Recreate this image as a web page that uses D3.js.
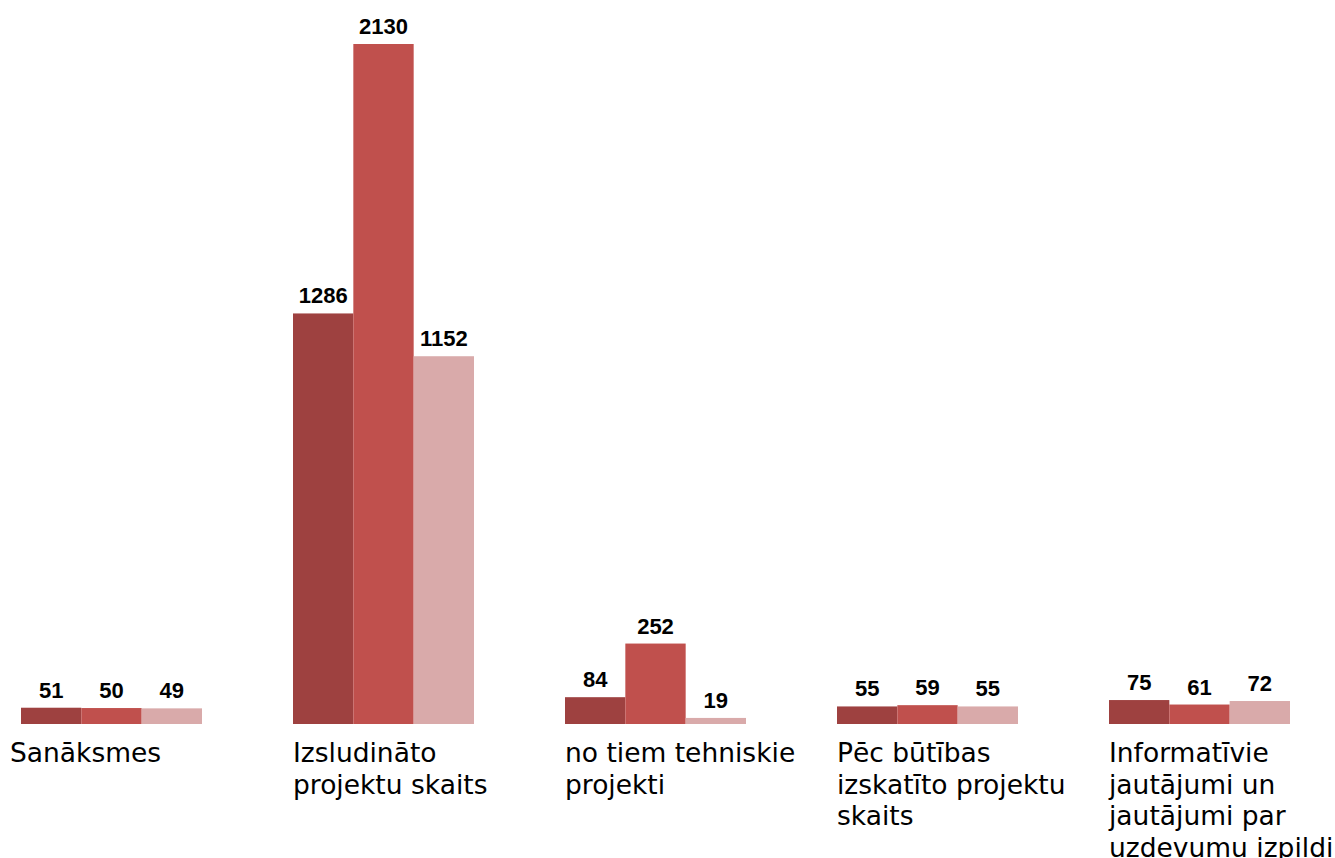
<!DOCTYPE html>
<html>
<head>
<meta charset="utf-8">
<script src="https://cdn.jsdelivr.net/npm/d3@7/dist/d3.min.js"></script>
<style>
  html, body { margin: 0; padding: 0; background: #ffffff; }
  svg { display: block; }
</style>
</head>
<body>
<svg id="chart" width="1335" height="858"></svg>
<script>
// ---- data ----
const categories = [
  "Sanāksmes",
  "Izsludināto projektu skaits",
  "no tiem tehniskie projekti",
  "Pēc būtības izskatīto projektu skaits",
  "Informatīvie jautājumi un jautājumi par uzdevumu izpildi"
];
const categoryLines = [
  ["Sanāksmes"],
  ["Izsludināto", "projektu skaits"],
  ["no tiem tehniskie", "projekti"],
  ["Pēc būtības", "izskatīto projektu", "skaits"],
  ["Informatīvie", "jautājumi un", "jautājumi par", "uzdevumu izpildi"]
];
const seriesNames = ["Sērija 1", "Sērija 2", "Sērija 3"];
const series1 = [51, 1286, 84, 55, 75];
const series2 = [50, 2130, 252, 59, 61];
const series3 = [49, 1152, 19, 55, 72];
const seriesValues = [series1, series2, series3];
const seriesColors = ["#9e4140", "#c0504d", "#d9aaaa"];

// ---- chart ----
const svg = d3.select("#chart");
const plotBottom = 724, plotTop = 44;

const x = d3.scaleBand()
  .domain(categories)
  .range([21, 1290])
  .paddingInner(91 / 272)
  .paddingOuter(0);

const xs = d3.scaleBand()
  .domain(seriesNames)
  .range([0, x.bandwidth()])
  .padding(0);

const y = d3.scaleLinear()
  .domain([0, 2130])
  .range([plotBottom, plotTop]);

const rows = [];
categories.forEach((c, i) => {
  seriesNames.forEach((s, j) => {
    rows.push({ cat: c, ser: s, value: seriesValues[j][i], color: seriesColors[j] });
  });
});

svg.append("g").selectAll("rect")
  .data(rows)
  .join("rect")
  .attr("x", d => x(d.cat) + xs(d.ser))
  .attr("y", d => y(d.value))
  .attr("width", xs.bandwidth())
  .attr("height", d => y(0) - y(d.value))
  .attr("fill", d => d.color);

svg.append("g").selectAll("text")
  .data(rows)
  .join("text")
  .attr("x", d => x(d.cat) + xs(d.ser) + xs.bandwidth() / 2)
  .attr("y", d => y(d.value) - 10)
  .attr("text-anchor", "middle")
  .attr("font-family", "'Liberation Sans', Arial, sans-serif")
  .attr("font-weight", "bold")
  .attr("font-size", 22)
  .attr("fill", "#000")
  .text(d => d.value);

const labelX = (d, i) => i === 0 ? x(d) - 11 : x(d);

const lab = svg.append("g").selectAll("text")
  .data(categories)
  .join("text")
  .attr("x", labelX)
  .attr("y", 762)
  .attr("font-family", "'DejaVu Sans', Verdana, sans-serif")
  .attr("font-size", 26.5)
  .attr("fill", "#000");

lab.each(function(d, i) {
  d3.select(this).selectAll("tspan")
    .data(categoryLines[i])
    .join("tspan")
    .attr("x", labelX(d, i))
    .attr("dy", (t, k) => k === 0 ? 0 : 31.7)
    .text(t => t);
});
</script>
</body>
</html>
